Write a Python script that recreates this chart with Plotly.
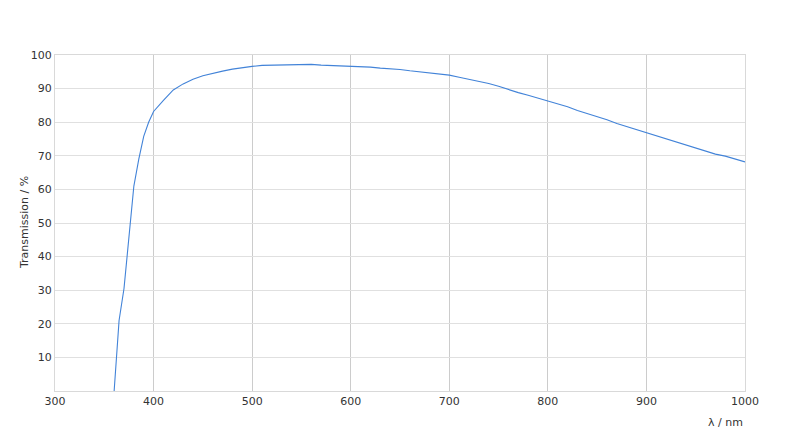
import plotly.graph_objects as go

# wavelength (nm) and transmission (%)
wavelength = [360, 365, 370, 375, 380, 385, 390, 395, 400, 410, 420, 430, 440, 450,
              460, 470, 480, 490, 500, 510, 520, 530, 540, 550, 560, 570, 580, 590,
              600, 610, 620, 630, 640, 650, 660, 670, 680, 690, 700, 710, 720, 730,
              740, 750, 760, 770, 780, 790, 800, 810, 820, 830, 840, 850, 860, 870,
              880, 890, 900, 910, 920, 930, 940, 950, 960, 970, 980, 990, 1000]
transmission = [0, 21, 30.5, 46, 61, 69, 75.8, 80, 83.2, 86.5, 89.6, 91.4, 92.8, 93.8,
                94.6, 95.2, 95.8, 96.3, 96.6, 96.9, 97.0, 97.1, 97.2, 97.2, 97.2, 97.0, 96.9, 96.9,
                96.7, 96.6, 96.4, 96.1, 96.0, 95.7, 95.3, 95.0, 94.7, 94.3, 94.0, 93.4, 92.8, 92.2,
                91.5, 90.7, 89.7, 88.8, 88.0, 87.2, 86.3, 85.4, 84.6, 83.5, 82.6, 81.6, 80.7, 79.6,
                78.7, 77.8, 77.0, 75.9, 75.1, 74.2, 73.2, 72.3, 71.4, 70.5, 69.9, 69.0, 68.2]

x_ticks = [300, 400, 500, 600, 700, 800, 900, 1000]
y_ticks = [10, 20, 30, 40, 50, 60, 70, 80, 90, 100]

fig = go.Figure()
fig.add_trace(go.Scatter(x=wavelength, y=transmission, mode='lines',
                         line=dict(color='#4283d8', width=1.1)))

# the page body adds an 8px offset, so margins are trimmed to land the plot where the reference has it
fig.update_layout(
    width=800, height=446,
    margin=dict(l=47, r=63, t=47, b=63),
    paper_bgcolor='white', plot_bgcolor='white',
    showlegend=False,
    font=dict(family='DejaVu Sans', size=11, color='#333333'),
    xaxis=dict(range=[300, 1000], tickvals=x_ticks, showgrid=True, gridcolor='#cccccc',
               gridwidth=1, showline=True, linecolor='#d9d9d9', mirror=True,
               zeroline=False, ticks='', ticklen=0, automargin=False),
    yaxis=dict(range=[0, 100], tickvals=y_ticks, showgrid=True, gridcolor='#e0e0e0',
               gridwidth=1, showline=True, linecolor='#d9d9d9', mirror=True,
               zeroline=False, ticks='', automargin=False),
    annotations=[
        dict(text='λ / nm', x=1, y=0, xref='paper', yref='paper',
             xanchor='right', yanchor='top', yshift=-23, showarrow=False,
             font=dict(size=11, color='#333333')),
        dict(text='Transmission / %', x=0, y=0.5, xref='paper', yref='paper',
             xanchor='center', yanchor='middle', xshift=-31, textangle=-90,
             showarrow=False, font=dict(size=11, color='#333333')),
    ],
)

fig.write_html("out.html")
